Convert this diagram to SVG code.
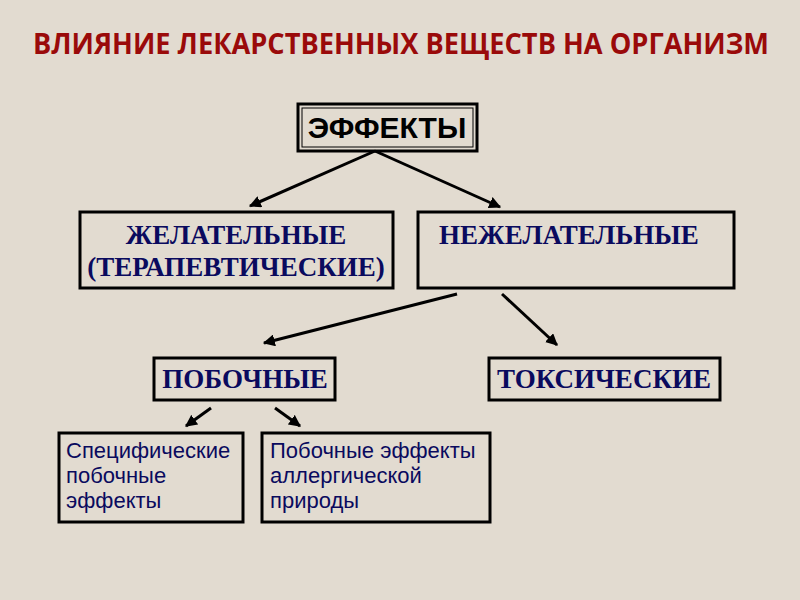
<svg xmlns="http://www.w3.org/2000/svg" width="800" height="600" viewBox="0 0 800 600">
<defs>
<marker id="ah" viewBox="0 0 10 10" refX="9" refY="5" markerWidth="4" markerHeight="4" orient="auto" markerUnits="strokeWidth">
<path d="M0,0 L10,5 L0,10 z" fill="#000"/>
</marker>
<style>
.box{fill:none;stroke:#000;stroke-width:3}
.conn line{stroke:#000;stroke-width:3;marker-end:url(#ah)}
.serif{font-family:"Liberation Serif","Times New Roman",serif;font-weight:bold;font-size:27px;fill:#0a0a5e}
.sans{font-family:"Liberation Sans",Arial,sans-serif;font-size:22px;fill:#0a0a5e}
</style>
</defs>
<rect width="800" height="600" fill="#e2dbd0"/>
<text x="33" y="54" font-family="'Open Sans','Liberation Sans',sans-serif" font-weight="bold" font-size="28" fill="#9a0a0a" textLength="736" lengthAdjust="spacingAndGlyphs">ВЛИЯНИЕ ЛЕКАРСТВЕННЫХ ВЕЩЕСТВ НА ОРГАНИЗМ</text>
<g id="effects">
<rect x="298" y="104" width="179" height="47" class="box"/>
<rect x="302" y="108" width="171" height="39" fill="none" stroke="#000" stroke-width="1"/>
<text x="387" y="138" text-anchor="middle" font-family="'Liberation Sans',Arial,sans-serif" font-weight="bold" font-size="30" fill="#000">ЭФФЕКТЫ</text>
</g>
<g id="desired">
<rect x="80" y="212" width="313" height="76" class="box"/>
<text x="236" y="244" text-anchor="middle" class="serif">ЖЕЛАТЕЛЬНЫЕ</text>
<text x="236" y="276" text-anchor="middle" class="serif">(ТЕРАПЕВТИЧЕСКИЕ)</text>
</g>
<g id="undesired">
<rect x="418" y="212" width="316" height="76" class="box"/>
<text x="569" y="244" text-anchor="middle" class="serif">НЕЖЕЛАТЕЛЬНЫЕ</text>
</g>
<g id="side">
<rect x="154" y="358" width="181" height="42" class="box"/>
<text x="245" y="388" text-anchor="middle" class="serif">ПОБОЧНЫЕ</text>
</g>
<g id="toxic">
<rect x="489" y="358" width="231" height="42" class="box"/>
<text x="604" y="388" text-anchor="middle" class="serif">ТОКСИЧЕСКИЕ</text>
</g>
<g id="specific">
<rect x="59" y="433" width="184" height="89" class="box"/>
<text x="66" y="458" class="sans">Специфические</text>
<text x="66" y="483" class="sans">побочные</text>
<text x="66" y="508" class="sans">эффекты</text>
</g>
<g id="allergic">
<rect x="262" y="433" width="228" height="89" class="box"/>
<text x="270" y="458" class="sans">Побочные эффекты</text>
<text x="270" y="483" class="sans">аллергической</text>
<text x="270" y="508" class="sans">природы</text>
</g>
<g class="conn" id="connectors">
<line x1="375" y1="151" x2="250" y2="206"/>
<line x1="375" y1="151" x2="500" y2="207"/>
<line x1="457" y1="294" x2="264" y2="343"/>
<line x1="502" y1="294" x2="557" y2="345"/>
<line x1="211" y1="408" x2="186" y2="426"/>
<line x1="275" y1="408" x2="300" y2="426"/>
</g>
</svg>
